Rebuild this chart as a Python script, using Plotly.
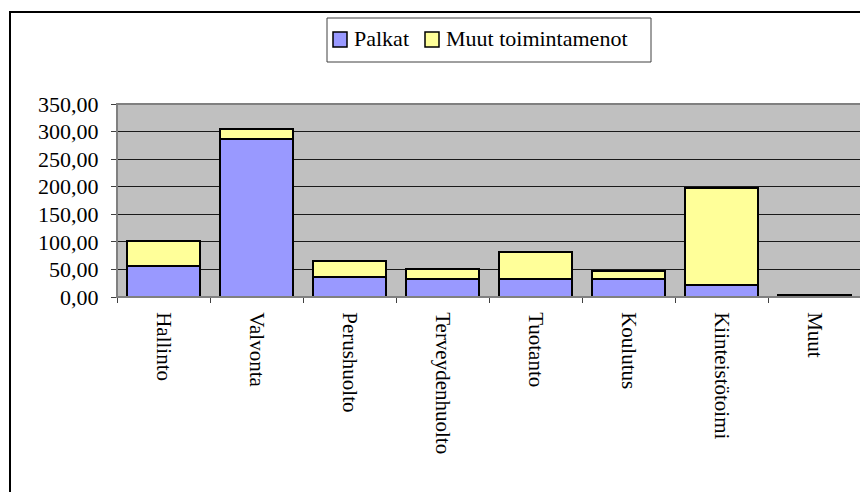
import plotly.graph_objects as go

categories = ["Hallinto", "Valvonta", "Perushuolto", "Terveydenhuolto",
              "Tuotanto", "Koulutus", "Kiinteistötoimi", "Muut"]
palkat = [57, 287, 36, 32, 33, 32, 21, 2]
muut_toimintamenot = [45, 18, 29, 18.5, 48, 15, 176, 2.5]
y_ticks = [0, 50, 100, 150, 200, 250, 300, 350]
series_names = ["Palkat", "Muut toimintamenot"]
series_colors = ["#9999FF", "#FFFF99"]

# page body has an 8px margin; positions below are relative to the figure
OFF = 8
W, H = 868, 492
L, T = 117 - OFF, 104 - OFF
PR, PB = 861 - OFF, 297 - OFF
R, B = W - PR, H - PB
pw, ph = PR - L, PB - T

def px_x(p):
    return (p - OFF - L) / pw

def px_y(p):
    return (PB - (p - OFF)) / ph

FONT = "Liberation Serif"

fig = go.Figure()
for name, vals, col in zip(series_names, [palkat, muut_toimintamenot], series_colors):
    fig.add_bar(x=categories, y=vals, name=name,
                marker=dict(color=col, line=dict(color="black", width=2)))

# custom legend (box, swatches and serif labels)
shapes = [
    dict(type="rect", xref="paper", yref="paper", x0=0, x1=1, y0=0, y1=1,
         line=dict(color="#808080", width=2), layer="above"),
    dict(type="rect", xref="paper", yref="paper",
         x0=px_x(10), x1=px_x(900), y0=px_y(12), y1=px_y(520),
         line=dict(color="black", width=2)),
    dict(type="rect", xref="paper", yref="paper",
         x0=px_x(327), x1=px_x(651), y0=px_y(18), y1=px_y(62),
         line=dict(color="#404040", width=1), fillcolor="white"),
]
annotations = []
swatch_x = [333, 425]
text_x = [352, 444]
for sx, tx, name, col in zip(swatch_x, text_x, series_names, series_colors):
    shapes.append(dict(type="rect", xref="paper", yref="paper",
                       x0=px_x(sx), x1=px_x(sx + 14), y0=px_y(47), y1=px_y(32),
                       line=dict(color="black", width=1.5), fillcolor=col))
    annotations.append(dict(xref="paper", yref="paper", x=px_x(tx), y=px_y(39),
                            xanchor="left", yanchor="middle", showarrow=False,
                            text=name, font=dict(family=FONT, size=22, color="black")))

fig.update_layout(
    width=W, height=H,
    barmode="stack", bargap=0.22,
    separators=", ",
    margin=dict(l=L, r=R, t=T, b=B),
    paper_bgcolor="white", plot_bgcolor="#C0C0C0",
    font=dict(family=FONT, size=20, color="black"),
    showlegend=False,
    xaxis=dict(type="category", showgrid=False, ticks="outside",
               tickson="boundaries", ticklen=5, tickcolor="#404040",
               tickangle=90, showline=True, linecolor="#404040", linewidth=1,
               ticklabelstandoff=10,
               tickfont=dict(family=FONT, size=21, color="black"),
               mirror=False),
    yaxis=dict(range=[0, 350], tickvals=y_ticks, tickformat=".2f",
               showgrid=True, gridcolor="#1a1a1a", gridwidth=1,
               ticks="outside", ticklen=5, tickcolor="#404040",
               showline=True, linecolor="#606060", linewidth=1,
               zeroline=False, ticklabelstandoff=8,
               tickfont=dict(family=FONT, size=22, color="black")),
    shapes=shapes,
    annotations=annotations,
)

fig.write_html("out.html")
